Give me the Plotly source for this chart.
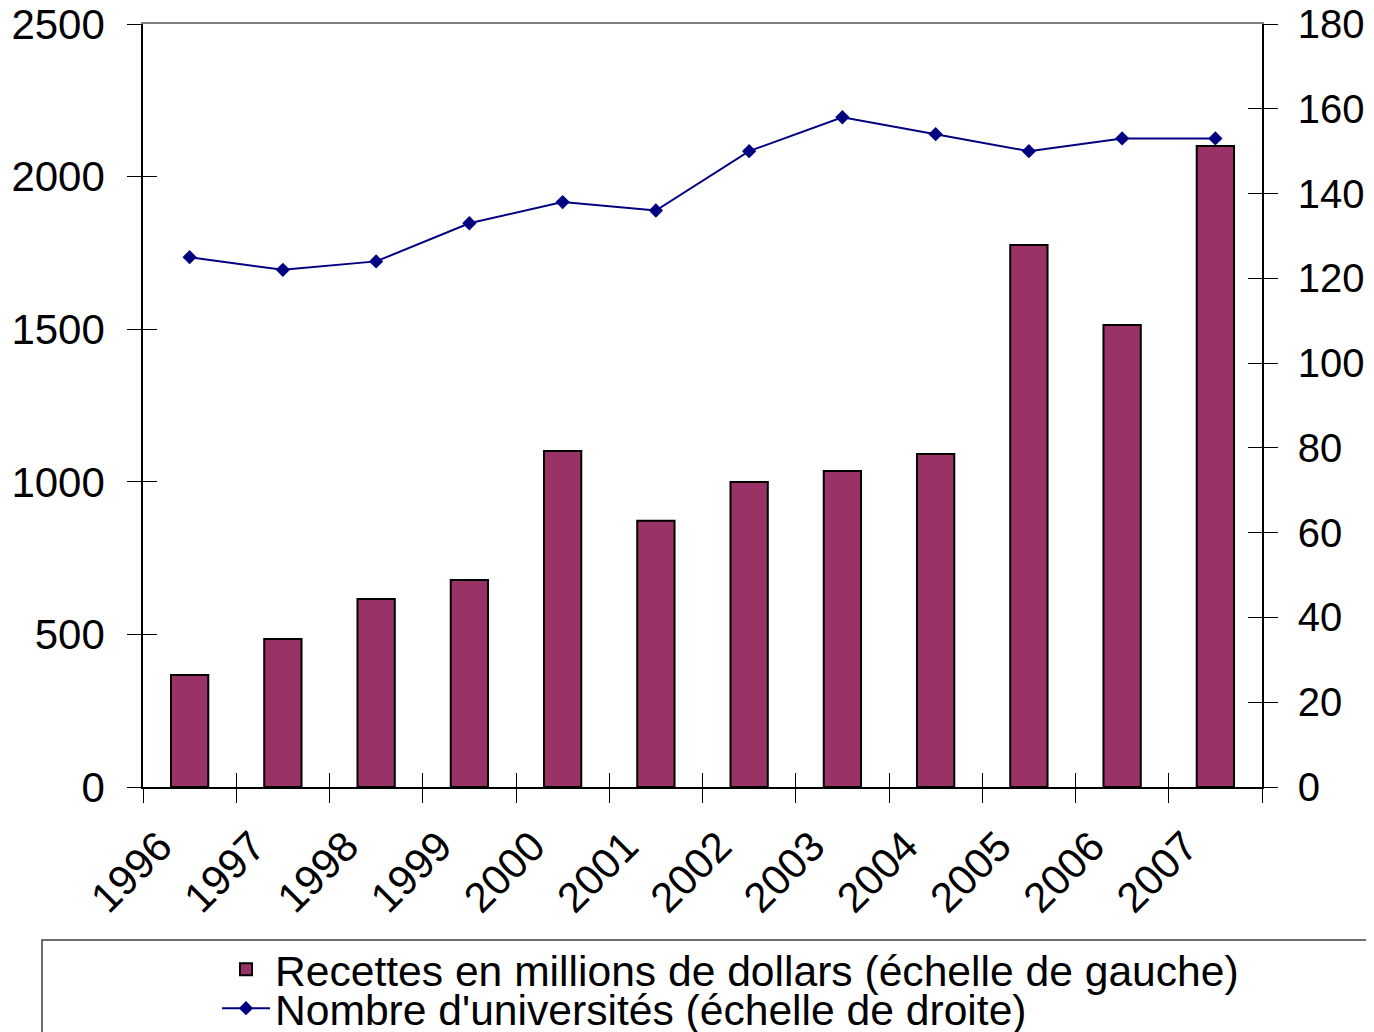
import plotly.graph_objects as go

years = ["1996", "1997", "1998", "1999", "2000", "2001", "2002", "2003", "2004", "2005", "2006", "2007"]
recettes = [367, 485, 616, 678, 1101, 872, 999, 1035, 1091, 1776, 1514, 2100]
universites = [125, 122, 124, 133, 138, 136, 150, 158, 154, 150, 153, 153]
left_ticks = [0, 500, 1000, 1500, 2000, 2500]
right_ticks = [0, 20, 40, 60, 80, 100, 120, 140, 160, 180]

FONT = "Liberation Sans, Arial, Helvetica, sans-serif"
# the page body has an 8px margin; figure coordinates are offset by it
OFF = 8
W, H = 1374 - OFF, 1032 - OFF
PL, PR, PT, PB = 143 - OFF, 1262 - OFF, 24 - OFF, 787 - OFF  # plot area in figure px
L, R, T, B = PL, W - PR, PT, H - PB
PW, PH = PR - PL, PB - PT


def px(xs):  # screen x -> paper x
    return (xs - OFF - PL) / PW


def py(ys):  # screen y -> paper y
    return (PB - (ys - OFF)) / PH


fig = go.Figure()
fig.add_trace(go.Bar(
    x=years, y=recettes, name="Recettes en millions de dollars (échelle de gauche)",
    marker=dict(color="#993366", line=dict(color="#000000", width=2)),
    yaxis="y", xaxis="x", legend="legend",
))
fig.add_trace(go.Scatter(
    x=years, y=universites, name="Nombre d'universités (échelle de droite)",
    mode="lines+markers", line=dict(color="#000080", width=2),
    marker=dict(symbol="diamond", size=11, color="#000080"),
    yaxis="y2", xaxis="x", legend="legend2",
))

boundaries = [i - 0.5 for i in range(len(years) + 1)]

# invisible helper traces so the overlay axes (crossing ticks / top frame line) get drawn
fig.add_trace(go.Scatter(x=[boundaries[0]], y=[left_ticks[0]], xaxis="x2", yaxis="y3",
                         mode="markers", marker=dict(opacity=0), showlegend=False, hoverinfo="skip"))
fig.add_trace(go.Scatter(x=[boundaries[0]], y=[right_ticks[0]], xaxis="x3", yaxis="y4",
                         mode="markers", marker=dict(opacity=0), showlegend=False, hoverinfo="skip"))

TL = 14
LEG_FONT = 42.6
fig.update_layout(
    width=W, height=H,
    margin=dict(l=L, r=R, t=T, b=B, autoexpand=False),
    plot_bgcolor="white", paper_bgcolor="white",
    font=dict(family=FONT, size=42, color="black"),
    bargap=0.6,
    showlegend=True,
    xaxis=dict(
        type="category", tickson="boundaries", ticks="outside", ticklen=TL,
        tickcolor="black", tickwidth=1.2, showline=True, linecolor="black", linewidth=1.5,
        tickangle=-45, showgrid=False, zeroline=False, range=[-0.5, len(years) - 0.5],
        tickfont=dict(size=42), ticklabelshift=-30, ticklabelstandoff=16,
    ),
    xaxis2=dict(
        overlaying="x", anchor="y", side="bottom", range=[-0.5, len(years) - 0.5],
        tickmode="array", tickvals=boundaries, ticks="inside", ticklen=TL,
        tickcolor="black", tickwidth=1.2, showticklabels=False, showgrid=False,
        zeroline=False, showline=False,
    ),
    xaxis3=dict(
        overlaying="x", anchor="y", side="top", range=[-0.5, len(years) - 0.5],
        showline=True, linecolor="#808080", linewidth=2, ticks="", showticklabels=False,
        showgrid=False, zeroline=False,
    ),
    yaxis=dict(
        range=[0, 2500], tickvals=left_ticks, ticks="outside", ticklen=TL,
        tickcolor="black", tickwidth=1.2, showline=True, linecolor="black", linewidth=1.5,
        showgrid=False, zeroline=False, ticklabelstandoff=14, ticklabeloverflow="allow",
    ),
    yaxis3=dict(
        overlaying="y", anchor="x2", side="left", range=[0, 2500], tickvals=left_ticks,
        ticks="inside", ticklen=TL, tickcolor="black", tickwidth=1.2,
        showticklabels=False, showgrid=False, zeroline=False, showline=False,
    ),
    yaxis2=dict(
        overlaying="y", anchor="x", side="right", range=[0, 180], tickvals=right_ticks,
        ticks="outside", ticklen=TL, tickcolor="black", tickwidth=1.2,
        showline=True, linecolor="black", linewidth=1.5, showgrid=False, zeroline=False,
        ticklabelstandoff=12, ticklabeloverflow="allow", tickfont=dict(size=40),
    ),
    yaxis4=dict(
        overlaying="y", anchor="x3", side="right", range=[0, 180], tickvals=right_ticks,
        ticks="inside", ticklen=TL, tickcolor="black", tickwidth=1.2,
        showticklabels=False, showgrid=False, zeroline=False, showline=False,
    ),
    legend=dict(
        x=px(217), xanchor="left", y=py(935), yanchor="top",
        font=dict(size=LEG_FONT, family=FONT), itemwidth=48,
        bgcolor="rgba(0,0,0,0)", borderwidth=0,
    ),
    legend2=dict(
        x=px(217), xanchor="left", y=py(974), yanchor="top",
        font=dict(size=LEG_FONT, family=FONT), itemwidth=48,
        bgcolor="rgba(0,0,0,0)", borderwidth=0,
    ),
    shapes=[dict(
        type="rect", xref="paper", yref="paper",
        x0=px(42), x1=1.4, y0=py(940), y1=-0.6,
        line=dict(color="#404040", width=1.5), fillcolor="rgba(0,0,0,0)", layer="below",
    )],
    annotations=[
        dict(text="<b>(</b>", xref="paper", yref="paper", x=px(714), y=py(10),
             xanchor="center", yanchor="bottom",
             showarrow=False, font=dict(size=42, family=FONT)),
        dict(text="<b>)</b>", xref="paper", yref="paper", x=px(1086), y=py(10),
             xanchor="center", yanchor="bottom",
             showarrow=False, font=dict(size=42, family=FONT)),
    ],
)

fig.write_html("out.html")
